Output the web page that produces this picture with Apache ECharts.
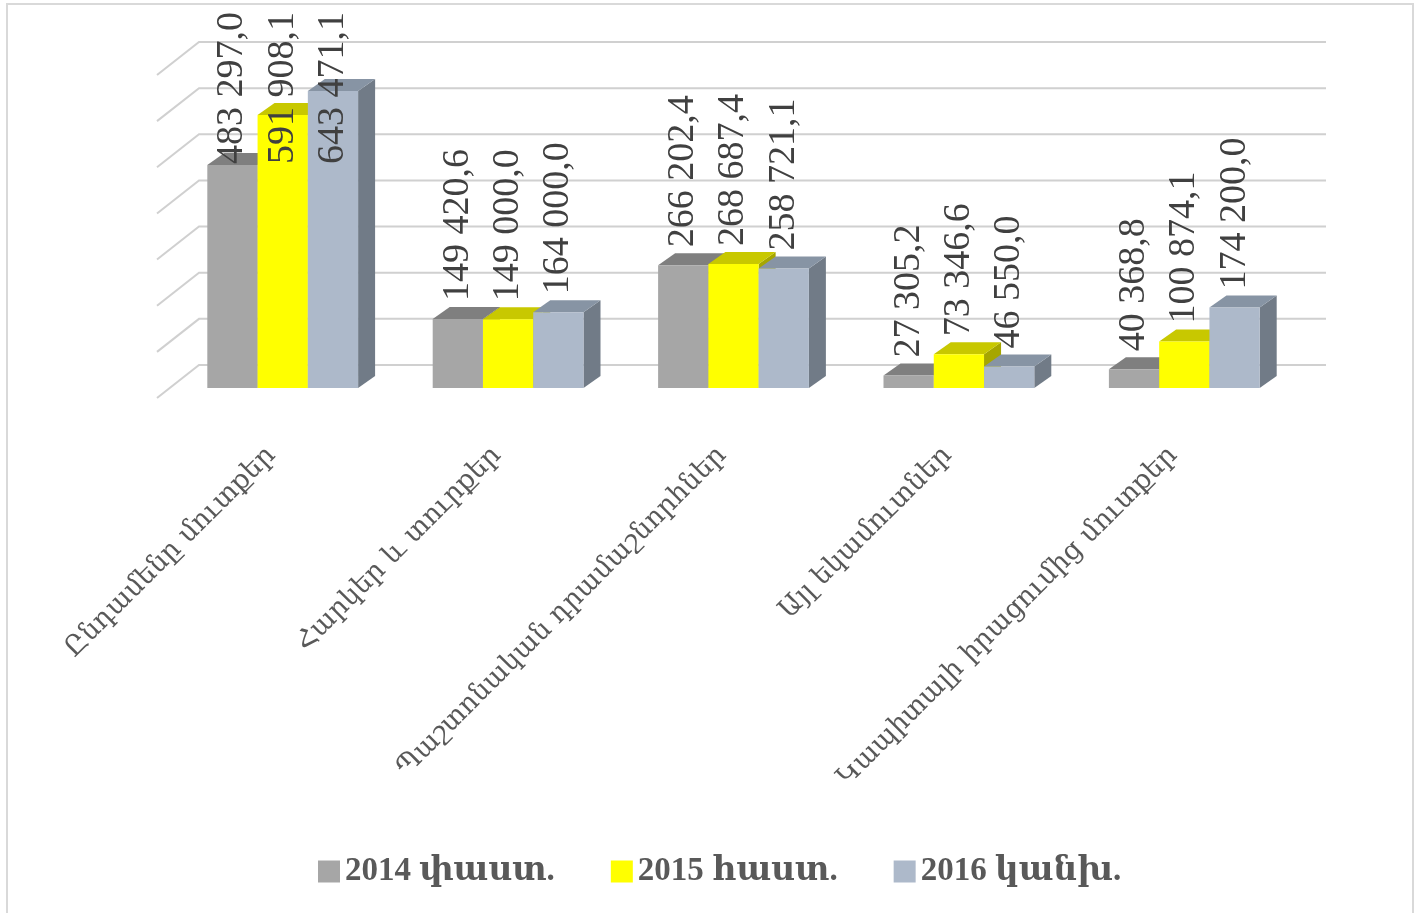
<!DOCTYPE html>
<html><head><meta charset="utf-8">
<script src="https://cdn.jsdelivr.net/npm/echarts@6/dist/echarts.min.js"></script>
<style>html,body{margin:0;padding:0;background:#fff}#c{width:1419px;height:913px}</style>
</head><body><div id="c"></div>
<script>
const categories = ['Ընդամենը մուտքեր', 'Հարկեր և տուրքեր', 'Պաշտոնական դրամաշնորհներ', 'Այլ եկամուտներ', 'Կապիտալի իրացումից մուտքեր'];
const seriesNames = ['2014 փաստ.', '2015 հաստ.', '2016 կանխ.'];
const values2014 = [483297.0, 149420.6, 266202.4, 27305.2, 40368.8];
const values2015 = [591908.1, 149000.0, 268687.4, 73346.6, 100874.1];
const values2016 = [643471.1, 164000.0, 258721.1, 46550.0, 174200.0];
const gridTicks = [0, 100000, 200000, 300000, 400000, 500000, 600000, 700000];
const yMax = 700000, yInterval = 100000;

const palette = [
  {front: '#a6a6a6', top: '#7f7f7f', side: '#6e6e6e'},
  {front: '#ffff00', top: '#c8c800', side: '#a6a600'},
  {front: '#adb9ca', top: '#8794a4', side: '#717b87'}
];
const BAR_FRACTION = 0.223;
const DEPTH_X = 17, DEPTH_Y = 12;
const WALL_X = 29, WALL_Y = 23;
const SIDE_X = 42, SIDE_Y = 33;
const LABEL_FONT = '38px "Liberation Serif"';
const LABEL_GAP = 18, LABEL_MIN_TOP = 12;

function fmt(v) {
  const s = v.toFixed(1).split('.');
  return s[0].replace(/\B(?=(\d{3})+(?!\d))/g, ' ') + ',' + s[1];
}
const mctx = document.createElement('canvas').getContext('2d');
mctx.font = LABEL_FONT;
function textLen(t) { return mctx.measureText(t).width; }

function barRenderer(si) {
  const col = palette[si];
  return function (params, api) {
    const idx = api.value(0), val = api.value(1);
    const band = api.size([1, 0])[0];
    const bw = band * BAR_FRACTION;
    const t = api.coord([idx, val]);
    const b = api.coord([idx, 0]);
    const x0 = t[0] + (si - 1.5) * bw, x1 = x0 + bw;
    const yt = t[1], yb = b[1];
    const txt = fmt(val);
    const ly = Math.max(yt - LABEL_GAP, LABEL_MIN_TOP + textLen(txt));
    return {
      type: 'group',
      children: [
        {type: 'polygon', shape: {points: [[x1, yt], [x1 + DEPTH_X, yt - DEPTH_Y], [x1 + DEPTH_X, yb - DEPTH_Y], [x1, yb]]}, style: {fill: col.side}},
        {type: 'polygon', shape: {points: [[x0, yt], [x1, yt], [x1 + DEPTH_X, yt - DEPTH_Y], [x0 + DEPTH_X, yt - DEPTH_Y]]}, style: {fill: col.top}},
        {type: 'rect', shape: {x: x0, y: yt, width: bw, height: yb - yt}, style: {fill: col.front}},
        {type: 'text', x: (x0 + x1) / 2, y: ly, rotation: Math.PI / 2, z2: 100,
          style: {text: txt, font: LABEL_FONT, fill: '#404040', align: 'left', verticalAlign: 'middle'}}
      ]
    };
  };
}

function wallRenderer(params, api) {
  const cs = params.coordSys;
  const y = api.coord([0, api.value(1)])[1] - WALL_Y;
  const xl = cs.x + WALL_X, xr = cs.x + cs.width + WALL_X;
  return {type: 'polyline', shape: {points: [[xl - SIDE_X, y + SIDE_Y], [xl, y], [xr, y]]},
    style: {stroke: '#d0d0d0', lineWidth: 2, fill: null}};
}

const seriesValues = [values2014, values2015, values2016];
const chart = echarts.init(document.getElementById('c'), null, {renderer: 'canvas'});
chart.setOption({
  animation: false,
  backgroundColor: '#ffffff',
  graphic: [{type: 'rect', shape: {x: 7, y: 4, width: 1406, height: 930}, style: {fill: null, stroke: '#d9d9d9', lineWidth: 2}}],
  grid: {left: 170, right: 122, top: 65, bottom: 525, containLabel: false},
  xAxis: {type: 'category', data: categories,
    axisLine: {show: false}, axisTick: {show: false}, splitLine: {show: false},
    axisLabel: {interval: 0, rotate: 45, margin: 52, padding: [0, 16, 0, 0], fontSize: 27, color: '#595959', fontFamily: '"DejaVu Serif"'}},
  yAxis: {type: 'value', min: 0, max: yMax, interval: yInterval, show: false},
  legend: {data: seriesNames, left: 318, top: 855, padding: 0, icon: 'rect', itemWidth: 22, itemHeight: 22, itemGap: 56,
    textStyle: {fontSize: 33, fontWeight: 'bold', color: '#595959', fontFamily: '"Liberation Serif", "DejaVu Serif"'}},
  series: [
    {type: 'custom', name: 'walls', renderItem: wallRenderer, data: gridTicks.map(v => [0, v]), encode: {x: 0, y: 1}, silent: true, z: 1}
  ].concat(seriesNames.map((n, si) => ({
    type: 'custom', name: n, renderItem: barRenderer(si), z: 2,
    itemStyle: {color: palette[si].front},
    encode: {x: 0, y: 1},
    data: seriesValues[si].map((v, i) => [i, v])
  })))
});
</script></body></html>
